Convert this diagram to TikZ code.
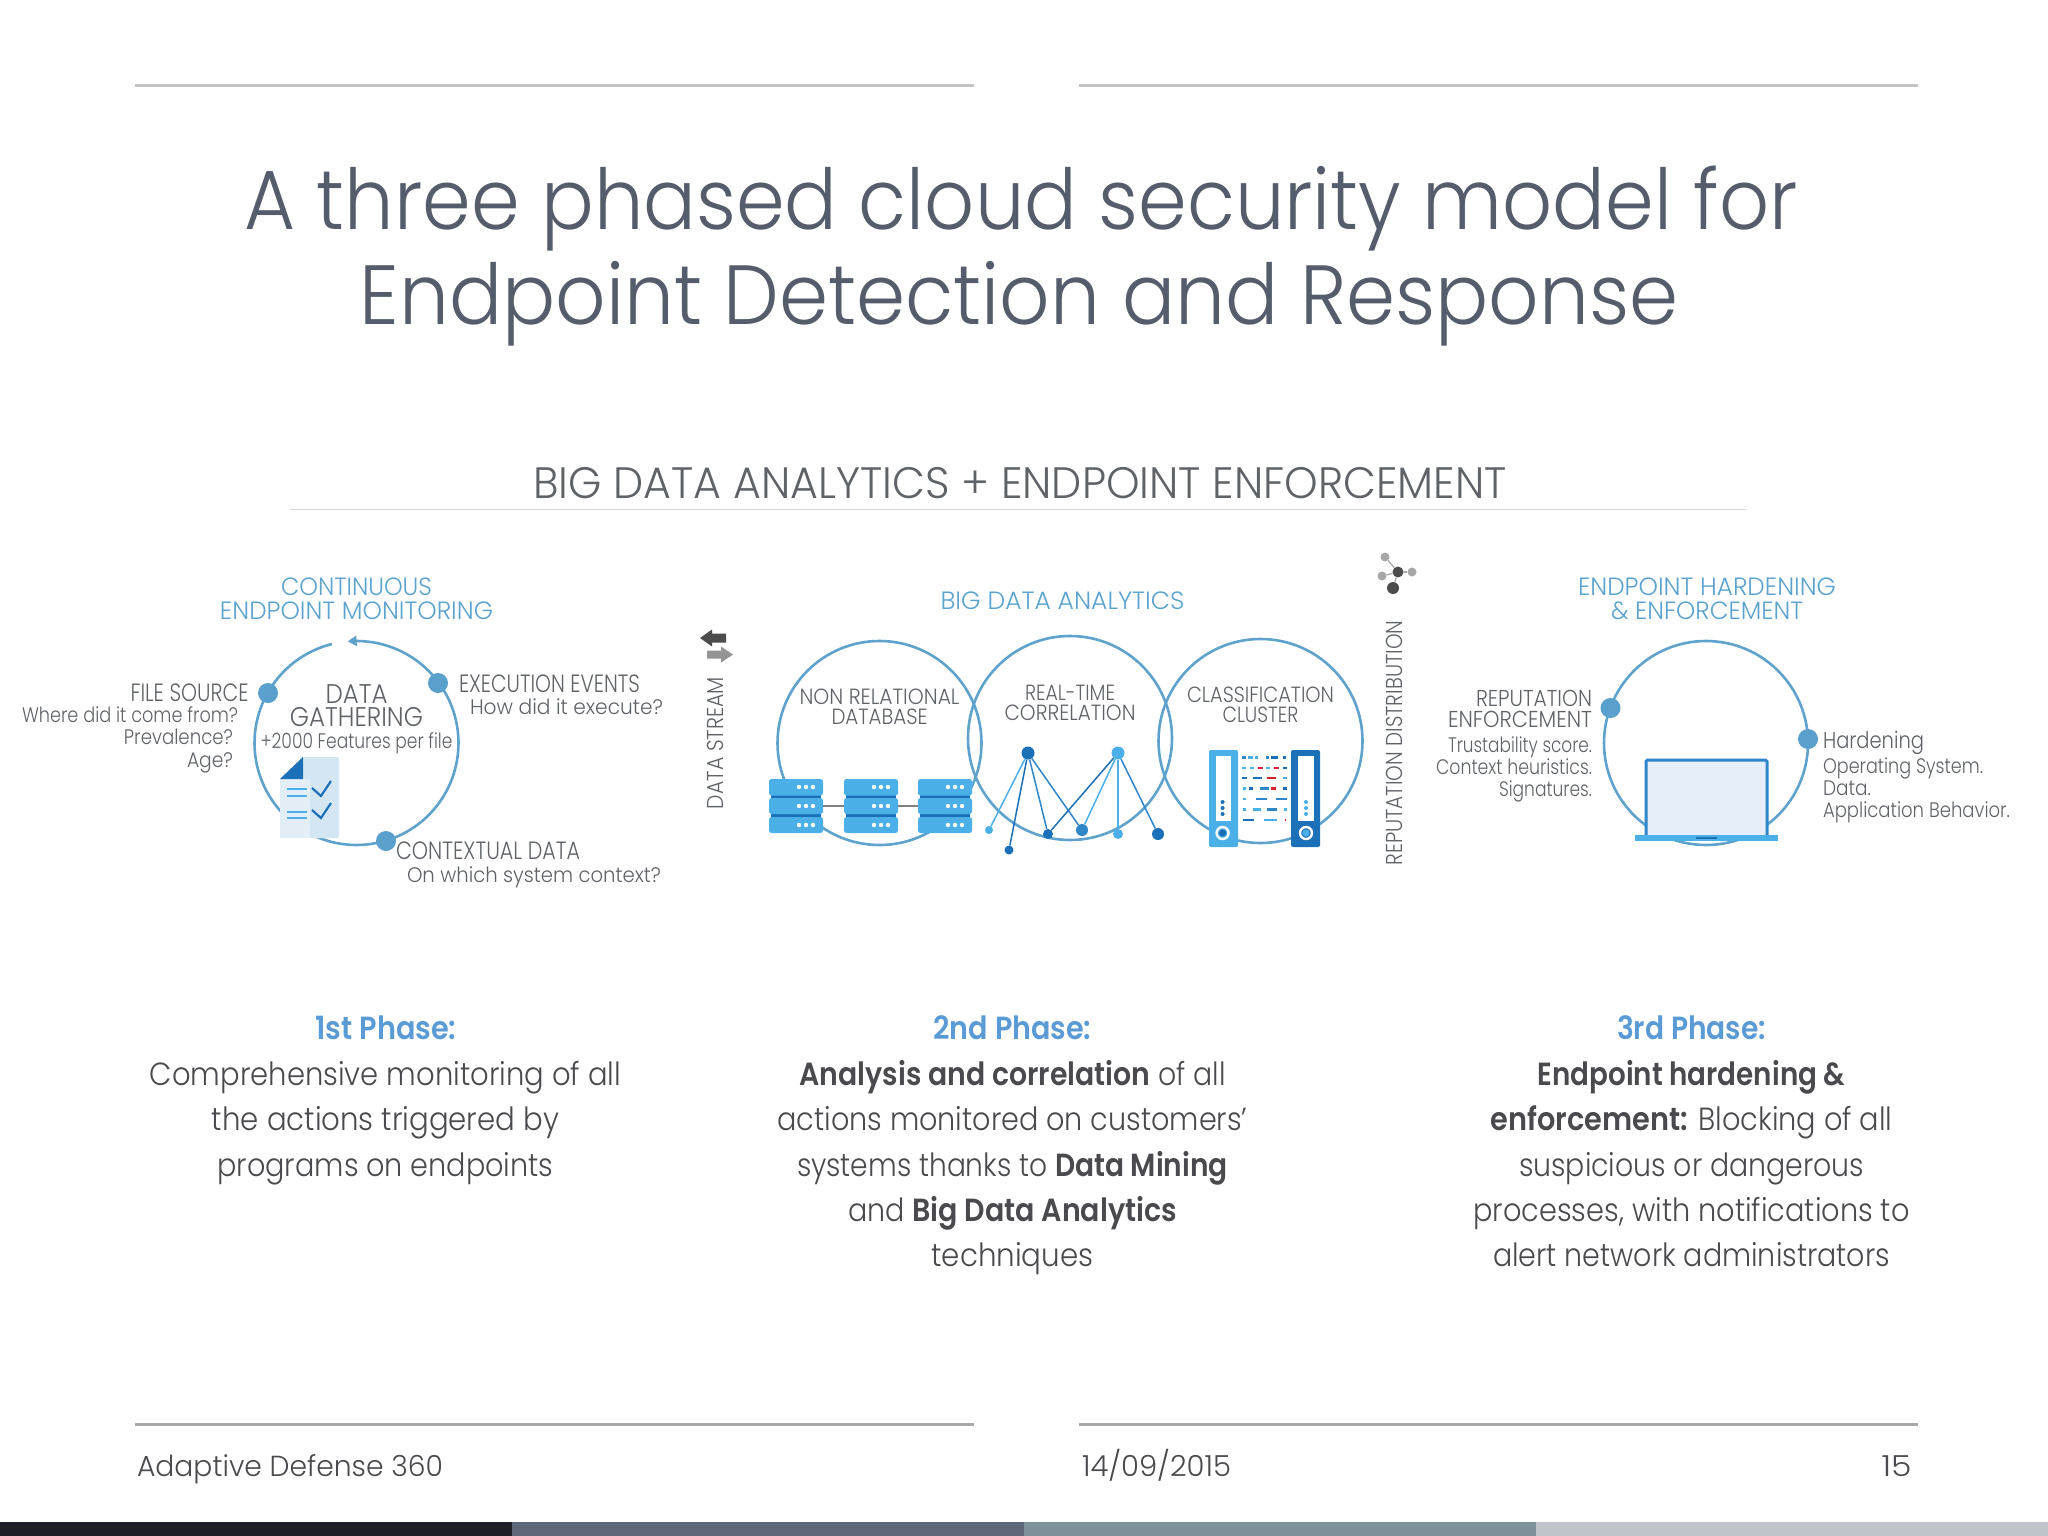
\documentclass[tikz,border=0pt]{standalone}
\usepackage{graphicx}
\usepackage{fontspec}
\setmainfont{Poppins Light}[BoldFont=Poppins SemiBold]
\usetikzlibrary{arrows.meta}
\definecolor{ring}{HTML}{5FA3CC}
\definecolor{dotc}{HTML}{5AA0CC}
\definecolor{head}{HTML}{5BA3CF}
\definecolor{lab}{HTML}{5F6368}
\definecolor{body}{HTML}{4A4A4E}
\definecolor{titlec}{HTML}{555D6C}
\definecolor{phase}{HTML}{5B9BD5}
\definecolor{srv}{HTML}{4CB0E8}
\definecolor{deep}{HTML}{1B70B8}
\definecolor{midb}{HTML}{2F86C8}
\definecolor{redc}{HTML}{D8222E}
\definecolor{rule}{HTML}{C4C4C4}
\definecolor{ruleb}{HTML}{A8A8A8}
\definecolor{barA}{HTML}{1F1F28}
\definecolor{barB}{HTML}{5F6878}
\definecolor{barC}{HTML}{7F919B}
\definecolor{barD}{HTML}{C0C5CC}
\definecolor{docA}{HTML}{E3EEF7}
\definecolor{docB}{HTML}{D5E6F3}
\definecolor{scr}{HTML}{E6EEFA}
\newcommand{\W}[2]{\resizebox{#1pt}{\height}{#2}}
\newcommand{\fs}[1]{\fontsize{#1}{#1}\selectfont}
\tikzset{
  x=1pt,y=-1pt,
  txt/.style={inner sep=0pt,outer sep=0pt,anchor=base},
  txl/.style={txt,anchor=base west},
  txr/.style={txt,anchor=base east},
  hd/.style={text=head,font=\fs{25}},
  big/.style={text=lab,font=\fs{25}},
  sm/.style={text=lab,font=\fs{21}},
  pb/.style={txt,text=body,font=\fs{32}},
  ph/.style={txt,text=phase,font=\fs{32}\bfseries},
  foot/.style={text=body,font=\fs{29}},
  ringl/.style={draw=ring,line width=2.6pt},
  bigdot/.style={circle,fill=dotc,inner sep=0pt,minimum size=20pt},
  netn/.style={circle,inner sep=0pt,minimum size=#1},
  nete/.style={line width=1.5pt},
  hline/.style={draw=rule,line width=3pt},
  slab/.style={fill=srv,rounded corners=2.5pt},
  grpe/.style={draw=gray!70,line width=1.2pt}
}
\newcommand{\stack}[1]{%
  \fill[deep] (#1+2,794) rectangle (#1+52,819);
  \fill[slab] (#1,779) rectangle (#1+54,795.5);
  \fill[slab] (#1,798) rectangle (#1+54,814);
  \fill[slab] (#1,817) rectangle (#1+54,833);
  \foreach \yy in {787,806,825}{
    \fill[white] (#1+30,\yy) circle (2.2);
    \fill[white] (#1+37,\yy) circle (2.2);
    \fill[white] (#1+44,\yy) circle (2.2);
  }}
\begin{document}
\begin{tikzpicture}
\useasboundingbox (0,0) rectangle (2048,1536);
\fill[white] (0,0) rectangle (2048,1536);
% frame rules
\draw[hline] (135,85.5) -- (974,85.5);
\draw[hline] (1079,85.5) -- (1918,85.5);
\draw[hline,draw=ruleb,line width=2.2pt] (135,1424.5) -- (974,1424.5);
\draw[hline,draw=ruleb,line width=2.2pt] (1079,1424.5) -- (1918,1424.5);
% bottom bar
\fill[barA] (0,1522) rectangle (512,1536);
\fill[barB] (512,1522) rectangle (1024,1536);
\fill[barC] (1024,1522) rectangle (1536,1536);
\fill[barD] (1536,1522) rectangle (2048,1536);
% title
\node[txt,text=titlec,font=\fs{84}] (t1) at (1021,229) {\W{1553}{A three phased cloud security model for}};
\node[txt,text=titlec,font=\fs{84}] (t2) at (1019,324) {\W{1319}{Endpoint Detection and Response}};
\node[txt,text=lab,font=\fs{44}] (sub) at (1020,498) {\W{973}{BIG DATA ANALYTICS + ENDPOINT ENFORCEMENT}};
\draw[draw=rule!70,line width=1.4pt] (290,509.5) -- (1746,509.5);
% ---- Phase 1 diagram
\node[txt,hd] (h1a) at (356.5,595) {\W{151}{CONTINUOUS}};
\node[txt,hd] (h1b) at (356.5,619) {\W{273}{ENDPOINT MONITORING}};
\draw[ringl,-{Triangle[length=9pt,width=10pt]}] plot[domain=-104:-455,samples=120] ({356.5+102*cos(\x)},{743+102*sin(\x)});
% document icon
\fill[docA,rounded corners=2pt] (280,779) -- (303,757) -- (312,757) -- (312,838) -- (280,838) -- cycle;
\fill[docB,rounded corners=2pt] (310,757) rectangle (339,838);
\fill[docB] (303,757) rectangle (312,838);
\fill[docA] (280,779) rectangle (310,838);
\fill[deep] (280,779) -- (303,757) -- (303,779) -- cycle;
\foreach \yy in {789,796,812,818}{\draw[srv,line width=2pt] (287,\yy) -- (307,\yy);}
\draw[deep,line width=2.2pt] (312,788) -- (321,796) -- (331,781);
\draw[deep,line width=2.2pt] (312,810) -- (321,818) -- (331,803);
\node[bigdot] (d1) at (268,693) {};
\node[bigdot] (d2) at (438,683) {};
\node[bigdot] (d3) at (386,841) {};
\node[txr,big] (l1) at (248.5,701) {\W{118}{FILE SOURCE}};
\node[txl,sm] (l2) at (22,722) {\W{216}{Where did it come from?}};
\node[txr,sm] (l3) at (233,744) {\W{109}{Prevalence?}};
\node[txr,sm] (l4) at (233,767) {\W{46}{Age?}};
\node[txt,font=\fs{27},text=lab] (c1) at (356.5,703) {\W{62}{DATA}};
\node[txt,font=\fs{27},text=lab] (c2) at (356.5,726) {\W{133}{GATHERING}};
\node[txt,sm] (c3) at (356.5,748) {\W{192}{+2000 Features per file}};
\node[txl,big] (r1) at (459,692) {\W{181}{EXECUTION EVENTS}};
\node[txl,sm] (r2) at (470,714) {\W{193}{How did it execute?}};
\node[txl,big] (b1) at (396,859) {\W{184}{CONTEXTUAL DATA}};
\node[txl,sm] (b2) at (407,882) {\W{254}{On which system context?}};
% ---- Data stream
\fill[black!70] (700,638) -- (712,629.5) -- (712,633.5) -- (726,633.5) -- (726,642.5) -- (712,642.5) -- (712,646.5) -- cycle;
\fill[black!42] (733,654.5) -- (721,646.5) -- (721,650.5) -- (707,650.5) -- (707,658.5) -- (721,658.5) -- (721,662.5) -- cycle;
\node[txt,text=lab,font=\fs{23},rotate=90] (ds) at (723,743) {\W{132}{DATA STREAM}};
% ---- Phase 2 diagram
\node[txt,hd] (h2) at (1062.5,609) {\W{244}{BIG DATA ANALYTICS}};
\node[circle,ringl,inner sep=0pt,minimum size=204pt] (ca) at (879.5,743) {};
\node[circle,ringl,inner sep=0pt,minimum size=204pt] (cb) at (1070,738) {};
\node[circle,ringl,inner sep=0pt,minimum size=204pt] (cc) at (1260.5,741) {};
\node[txt,big,font=\fs{22}] (a1) at (879.5,704) {\W{160}{NON RELATIONAL}};
\node[txt,big,font=\fs{22}] (a2) at (879.5,724) {\W{96}{DATABASE}};
\node[txt,big,font=\fs{22}] (b1t) at (1070,700) {\W{90}{REAL-TIME}};
\node[txt,big,font=\fs{22}] (b2t) at (1070,720) {\W{131}{CORRELATION}};
\node[txt,big,font=\fs{22}] (c1t) at (1260.5,702) {\W{147}{CLASSIFICATION}};
\node[txt,big,font=\fs{22}] (c2t) at (1260.5,722) {\W{76}{CLUSTER}};
% servers
\draw[gray,line width=1.6pt] (823,806) -- (844,806);
\draw[gray,line width=1.6pt] (898,806) -- (918,806);
\stack{769}\stack{844}\stack{918}
% network
\node[netn=13pt,fill=deep] (n1) at (1028,753) {};
\node[netn=13pt,fill=srv] (n2) at (1118,753) {};
\node[netn=8pt,fill=srv] (na) at (989,830) {};
\node[netn=9pt,fill=deep] (nb) at (1009,850) {};
\node[netn=10pt,fill=deep] (nc) at (1048,834) {};
\node[netn=12pt,fill=midb] (nd) at (1082,830) {};
\node[netn=10pt,fill=srv] (ne) at (1118,834) {};
\node[netn=12pt,fill=deep] (nf) at (1158,834) {};
\draw[nete,srv] (n1) -- (na);
\draw[nete,deep] (n1) -- (nb);
\draw[nete,midb] (n1) -- (nc);
\draw[nete,midb] (n1) -- (nd);
\draw[nete,deep] (n2) -- (nc);
\draw[nete,srv] (n2) -- (nd);
\draw[nete,srv] (n2) -- (ne);
\draw[nete,midb] (n2) -- (nf);
% cluster
\fill[srv,rounded corners=2pt] (1209,750) rectangle (1238,847);
\fill[white] (1215.5,756) rectangle (1231,821);
\foreach \yy in {802,808,814}{\fill[deep] (1222.6,\yy) circle (2);}
\draw[white,line width=2.4pt] (1222.6,833) circle (6);
\fill[deep] (1222.6,833) circle (3.6);
\fill[deep,rounded corners=2pt] (1291,750) rectangle (1320,847);
\fill[white] (1298,756) rectangle (1314,821);
\foreach \yy in {802,808,814}{\fill[srv] (1306,\yy) circle (2);}
\draw[white,line width=2.4pt] (1306,833) circle (6);
\fill[srv] (1306,833) circle (3.6);
\foreach \z/\a/\b/\c in {
 653/1236/1245/midb,653/1250/1260/srv,653/1265/1272/srv,653/1290/1296/midb,653/1302/1318/deep,653/1328/1336/deep,
 684/1236/1245/srv,684/1254/1263/srv,684/1273/1283/redc,684/1291/1300/srv,684/1309/1319/redc,684/1328/1337/deep,
 714/1236/1248/deep,714/1260/1282/deep,714/1292/1312/redc,714/1328/1337/srv,
 745/1238/1246/srv,745/1253/1262/deep,745/1276/1298/midb,745/1302/1312/redc,745/1328/1337/deep,
 777/1238/1246/srv,777/1268/1292/midb,777/1312/1337/midb,
 808/1238/1246/srv,808/1262/1280/srv,808/1292/1315/midb,808/1331/1338/srv,
 840/1238/1264/deep,840/1286/1314/srv,840/1333/1336/redc}{
  \draw[\c,line width=2.6pt] ({690+\a/2.24},{540+\z/3}) -- ({690+\b/2.24},{540+\z/3});
}
% ---- Reputation icon
\node[netn=9pt,fill=gray!70] (g1) at (1385,557) {};
\node[netn=11pt,fill=black!70] (g2) at (1398,572) {};
\node[netn=9pt,fill=gray!70] (g3) at (1412,572) {};
\node[netn=9pt,fill=gray!70] (g4) at (1382,576) {};
\node[netn=12pt,fill=black!70] (g5) at (1393,588) {};
\draw[grpe] (g2) -- (g1);
\draw[grpe] (g2) -- (g3);
\draw[grpe] (g2) -- (g4);
\draw[grpe] (g2) -- (g5);
\node[txt,text=lab,font=\fs{23},rotate=90] (rd) at (1402,743) {\W{245}{REPUTATION DISTRIBUTION}};
% ---- Phase 3 diagram
\node[txt,hd] (h3a) at (1707,595) {\W{258}{ENDPOINT HARDENING}};
\node[txt,hd] (h3b) at (1707,619) {\W{192}{\& ENFORCEMENT}};
\node[circle,ringl,inner sep=0pt,minimum size=204pt] (cd) at (1706,743) {};
\fill[scr,draw=midb,line width=3pt,rounded corners=1.5pt] (1646,760) rectangle (1767,837);
\fill[srv] (1635,835) rectangle (1777.5,841);
\fill[deep] (1696,837) rectangle (1717,839);
\node[bigdot] (d4) at (1610.5,708) {};
\node[bigdot] (d5) at (1808,739) {};
\node[txr,big,font=\fs{23}] (p1) at (1592,706) {\W{116}{REPUTATION}};
\node[txr,big,font=\fs{23}] (p2) at (1592,727) {\W{144}{ENFORCEMENT}};
\node[txr,sm] (p3) at (1592,752) {\W{144}{Trustability score.}};
\node[txr,sm] (p4) at (1592,774) {\W{156}{Context heuristics.}};
\node[txr,sm] (p5) at (1592,796) {\W{93}{Signatures.}};
\node[txl,big,font=\fs{23}] (q1) at (1823,748) {\W{101}{Hardening}};
\node[txl,sm] (q2) at (1823,773) {\W{160}{Operating System.}};
\node[txl,sm] (q3) at (1823,795) {\W{48}{Data.}};
\node[txl,sm] (q4) at (1823,817) {\W{187}{Application Behavior.}};
% ---- Phase texts
\node[ph] (a0) at (386,1039) {\W{141}{1st Phase:}};
\node[pb] (a3) at (385.5,1085) {\W{471}{Comprehensive monitoring of all}};
\node[pb] (a4) at (385.5,1130) {\W{347}{the actions triggered by}};
\node[pb] (a5) at (385.5,1176) {\W{336}{programs on endpoints}};
\node[ph] (e0) at (1012.5,1039) {\W{158}{2nd Phase:}};
\node[pb] (e1) at (1012.5,1085) {\W{426}{\textbf{Analysis and correlation} of all}};
\node[pb] (e2) at (1012.5,1130) {\W{470}{actions monitored on customers'}};
\node[pb] (e3) at (1012.5,1176) {\W{431}{systems thanks to \textbf{Data Mining}}};
\node[pb] (e4) at (1012.5,1221) {\W{329}{and \textbf{Big Data Analytics}}};
\node[pb] (e5) at (1012.5,1266) {\W{162}{techniques}};
\node[ph] (f0) at (1691.5,1039) {\W{149}{3rd Phase:}};
\node[pb] (f1) at (1691.5,1085) {\W{308}{\textbf{Endpoint hardening \&}}};
\node[pb] (f2) at (1691.5,1130) {\W{402}{\textbf{enforcement:} Blocking of all}};
\node[pb] (f3) at (1691.5,1176) {\W{345}{suspicious or dangerous}};
\node[pb] (f4) at (1691.5,1221) {\W{436}{processes, with notifications to}};
\node[pb] (f5) at (1691.5,1266) {\W{397}{alert network administrators}};
% footer
\node[txl,foot] (fa) at (137,1476) {\W{306}{Adaptive Defense 360}};
\node[txl,foot] (fb) at (1082,1476) {\W{149}{14/09/2015}};
\node[txr,foot] (fc) at (1911.5,1476) {\W{30}{15}};
\end{tikzpicture}
\end{document}
